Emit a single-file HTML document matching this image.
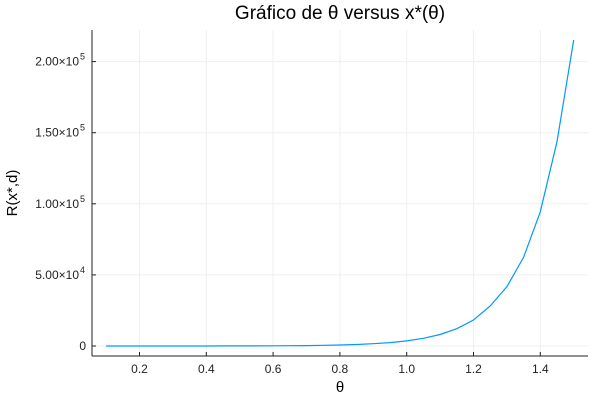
<!DOCTYPE html>
<html><head><meta charset="utf-8"><style>
body{margin:0;background:#fff;}
svg{font-family:"Liberation Sans","DejaVu Sans",sans-serif;}
</style></head><body>
<svg id="chart" width="600" height="400">
<rect width="600" height="400" fill="#fff"/>
<g id="grid"></g>
<g id="ticks"></g>
<line x1="92" y1="30" x2="92" y2="356" stroke="#222" stroke-width="1"/>
<line x1="92" y1="356" x2="588" y2="356" stroke="#222" stroke-width="1"/>
<path id="line" fill="none" stroke="#009af9" stroke-width="1.2"/>
<text x="340" y="19" text-anchor="middle" font-size="19" fill="#000">Gráfico de θ versus x*(θ)</text>
<text x="340" y="392" text-anchor="middle" font-size="15" fill="#000">θ</text>
<text transform="translate(17,193) rotate(-90)" text-anchor="middle" font-size="15" fill="#000">R(x*,d)</text>
</svg>
<script>
const thetas=[0.1,0.15,0.2,0.25,0.3,0.35,0.4,0.45,0.5,0.55,0.6,0.65,0.7,0.75,0.8,0.85,0.9,0.95,1.0,1.05,1.1,1.15,1.2,1.25,1.3,1.35,1.4,1.45,1.5];
const values=[2.3,3.5,5,8,12,18,27,41,62,93,140,210,315,470,710,1070,1600,2400,3600,5400,8100,12200,18300,28100,41700,62400,94400,143700,215200];
const xTicks=[0.2,0.4,0.6,0.8,1.0,1.2,1.4];
const xTickLabels=["0.2","0.4","0.6","0.8","1.0","1.2","1.4"];
const yTicks=[0,50000,100000,150000,200000];
const yTickMant=["0","5.00×10","1.00×10","1.50×10","2.00×10"];
const yTickExp=["","4","5","5","5"];

const NS="http://www.w3.org/2000/svg";
const xs=v=>139.5+(v-0.2)*334;
const ys=v=>346-v*71.1/50000;
const grid=document.getElementById('grid'),ticks=document.getElementById('ticks');
function mk(tag,attrs,parent){const e=document.createElementNS(NS,tag);for(const k in attrs)e.setAttribute(k,attrs[k]);parent.appendChild(e);return e;}
xTicks.forEach((t,i)=>{
 const g=mk('line',{x1:xs(t),x2:xs(t),y1:30,y2:356,stroke:'#efefef','stroke-width':1},grid);
 
 
 const tk=mk('line',{x1:xs(t),x2:xs(t),y1:356,y2:352,stroke:'#222'},ticks);
 
 
 const tx=mk('text',{x:xs(t),y:373,'text-anchor':'middle','font-size':12,fill:'#222'},ticks);
 tx.textContent=xTickLabels[i];
 
 
});
yTicks.forEach((t,i)=>{
 const g=mk('line',{x1:92,x2:588,y1:ys(t),y2:ys(t),stroke:'#efefef','stroke-width':1},grid);
 
 
 const tk=mk('line',{x1:92,x2:96,y1:ys(t),y2:ys(t),stroke:'#222'},ticks);
 
 
 const tx=mk('text',{x:yTickExp[i]?79:86,y:ys(t)+4,'text-anchor':'end','font-size':12,fill:'#222'},ticks);
 tx.textContent=yTickMant[i];
 
 
 if(yTickExp[i]){
  const s=mk('text',{x:80,y:ys(t)-2,'font-size':9,fill:'#222'},ticks);
  s.textContent=yTickExp[i];
  
  
 }
});
document.getElementById('line').setAttribute('d',thetas.map((t,i)=>(i?'L':'M')+xs(t).toFixed(1)+','+ys(values[i]).toFixed(1)).join(''));
</script>
</body></html>
